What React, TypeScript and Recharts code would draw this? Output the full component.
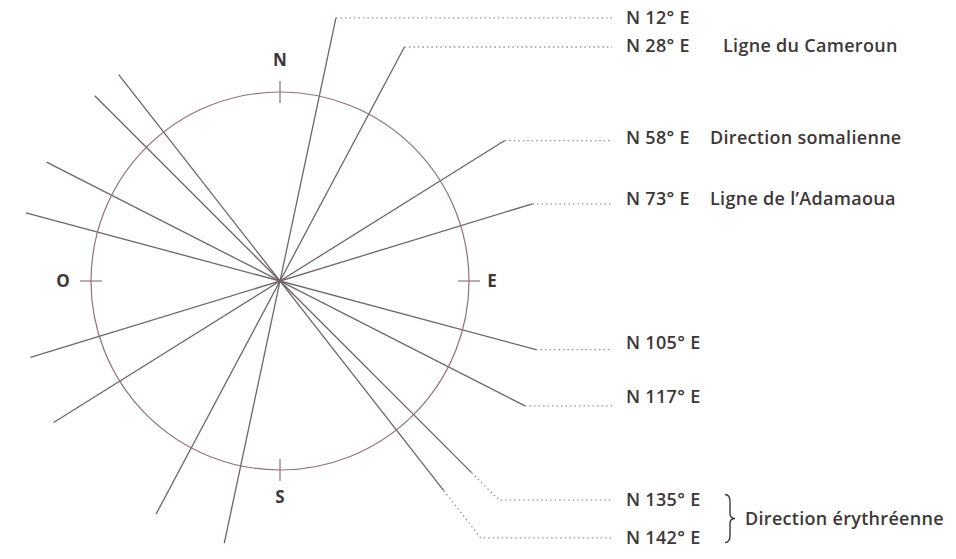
import { ComposedChart, Line, Scatter, XAxis, YAxis, ReferenceDot, ReferenceLine } from "recharts";

// azimuth of each fracture direction, degrees clockwise from north
const azimuths = [12, 28, 58, 73, 105, 117, 135, 142];
const codes = ["N 12° E", "N 28° E", "N 58° E", "N 73° E", "N 105° E", "N 117° E", "N 135° E", "N 142° E"];
const names = ["", "Ligne du Cameroun", "Direction somalienne", "Ligne de l’Adamaoua", "", "", "", ""];
// lengths of each line from the centre (solid part, dotted end, opposite side)
const solidLength = [269, 265, 265, 264, 265, 275, 271, 266];
const dottedLength = [269, 265, 265, 264, 265, 275, 310, 326];
const backLength = [268, 264, 267, 261, 263, 262, 262, 262];
const cardinals = ["N", "E", "S", "O"];
const cardinalAz = [0, 90, 180, 270];
const groupName = "Direction érythréenne";
const groupMembers = [135, 142];

// layout
const W = 956;
const H = 559;
const CX = 280;
const CY = 281;
const R = 189;
const leaderEnd = 612 - CX;
const codeX = 626 - CX;
const nameX = [0, 723 - CX, 710 - CX, 710 - CX, 0, 0, 0, 0];
const labelNudge = [0, -1, -3, -5, -7, -9, -1, 0];
const cardinalGap = [32, 23, 27, 28];
const ink = "#3d3738";
const lineColor = "#6f6466";
const font = "'Open Sans', 'Noto Sans', sans-serif";
const textSize = 18;

const polar = (az: number, len: number) => {
  const a = (az * Math.PI) / 180;
  return { x: len * Math.sin(a), y: len * Math.cos(a) };
};

const solidLines = azimuths.map((az, i) => [polar(az + 180, backLength[i]), polar(az, solidLength[i])]);
const leaders = azimuths.map((az, i) => {
  const a = polar(az, solidLength[i]);
  const b = polar(az, dottedLength[i]);
  return [a, b, { x: leaderEnd, y: b.y }];
});
const labelPoints = azimuths.map((az, i) => ({
  x: codeX,
  y: polar(az, dottedLength[i]).y - labelNudge[i],
  code: codes[i],
  name: names[i],
  nameDx: nameX[i] ? nameX[i] - codeX : 0,
}));
const groupIdx = groupMembers.map((g) => azimuths.indexOf(g));
const groupPoint = [
  {
    x: 725 - CX,
    y: (labelPoints[groupIdx[0]].y + labelPoints[groupIdx[1]].y) / 2,
    text: groupName,
  },
];
const cardinalPoints = cardinals.map((c, i) => ({ ...polar(cardinalAz[i], R + cardinalGap[i]), text: c }));

const textProps = {
  fontSize: textSize,
  fontWeight: 600,
  fill: ink,
  fontFamily: font,
  letterSpacing: 0.3,
};

const LabelShape = (p: any) => {
  const { cx, cy, payload } = p;
  return (
    <g>
      <text x={cx} y={cy} dy="0.35em" {...textProps}>
        {payload.code}
      </text>
      {payload.name ? (
        <text x={cx + payload.nameDx} y={cy} dy="0.35em" {...textProps}>
          {payload.name}
        </text>
      ) : null}
    </g>
  );
};

const BraceShape = (p: any) => {
  const { cx, cy, payload } = p;
  const h = 24;
  const w = 5;
  const d = `M ${cx} ${cy - h} Q ${cx + w} ${cy - h} ${cx + w} ${cy - h + 7} L ${cx + w} ${cy - 5} Q ${cx + w} ${cy} ${cx + w * 2} ${cy} Q ${cx + w} ${cy} ${cx + w} ${cy + 5} L ${cx + w} ${cy + h - 7} Q ${cx + w} ${cy + h} ${cx} ${cy + h}`;
  return (
    <g>
      <path d={d} fill="none" stroke={ink} strokeWidth={1.4} />
      <text x={cx + 20} y={cy} dy="0.35em" {...textProps}>
        {payload.text}
      </text>
    </g>
  );
};

const CardinalShape = (p: any) => {
  const { cx, cy, payload } = p;
  return (
    <text x={cx} y={cy} dy="0.35em" textAnchor="middle" fontSize={17} fontWeight={700} fill={ink} fontFamily={font}>
      {payload.text}
    </text>
  );
};

export default function App() {
  return (
    <div style={{ position: "absolute", left: 0, top: 0, width: W, height: H, background: "#fff" }}>
      <ComposedChart width={W} height={H} margin={{ top: 0, right: 0, bottom: 0, left: 0 }}>
        <XAxis type="number" dataKey="x" domain={[-CX, W - CX]} hide allowDataOverflow />
        <YAxis type="number" dataKey="y" domain={[CY - H, CY]} hide allowDataOverflow />
        <ReferenceDot x={0} y={0} r={R} fill="none" stroke="#8f7276" strokeWidth={1.2} />
        {cardinalAz.map((az) => {
          const a = polar(az, R - 11);
          const b = polar(az, R + 11);
          return <ReferenceLine key={az} segment={[a, b]} stroke="#8f7276" strokeWidth={1.2} />;
        })}
        {solidLines.map((pts, i) => (
          <Line key={`s${i}`} data={pts} dataKey="y" stroke={lineColor} strokeWidth={1.3} dot={false} activeDot={false} isAnimationActive={false} />
        ))}
        {leaders.map((pts, i) => (
          <Line key={`d${i}`} data={pts} dataKey="y" stroke="#9a9294" strokeWidth={1.3} strokeDasharray="1.5 3" dot={false} activeDot={false} isAnimationActive={false} />
        ))}
        <Scatter data={labelPoints} shape={LabelShape} isAnimationActive={false} />
        <Scatter data={groupPoint} shape={BraceShape} isAnimationActive={false} />
        <Scatter data={cardinalPoints} shape={CardinalShape} isAnimationActive={false} />
      </ComposedChart>
    </div>
  );
}
